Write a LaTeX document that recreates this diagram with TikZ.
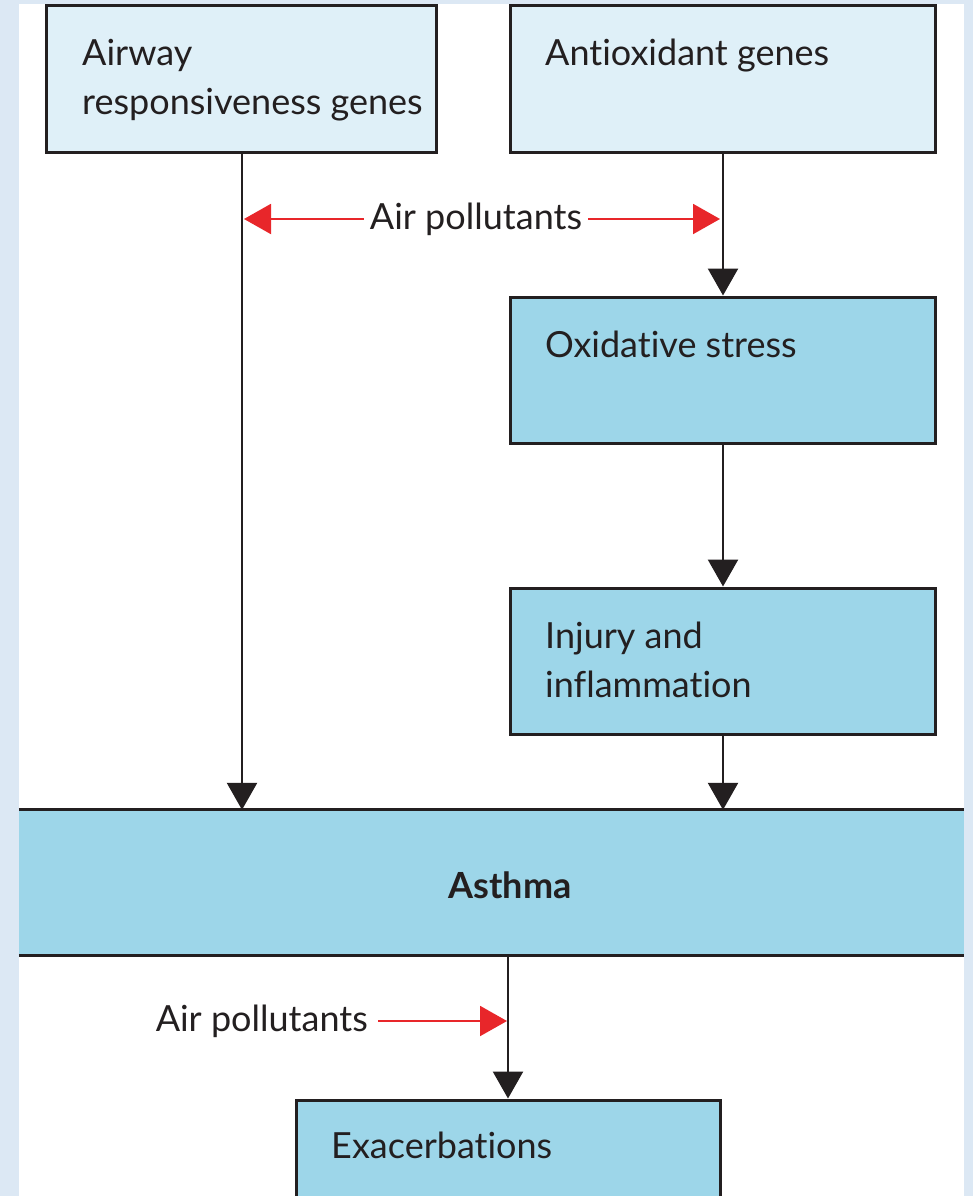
\documentclass[tikz,border=0pt]{standalone}
\usepackage{fontspec}
\setmainfont{Lato}[Ligatures=NoCommon]
\usetikzlibrary{arrows.meta}
\definecolor{outerbg}{HTML}{DCE8F4}
\definecolor{lightfill}{HTML}{DFF0F8}
\definecolor{darkfill}{HTML}{9DD6E9}
\definecolor{inkc}{HTML}{231F20}
\definecolor{redc}{HTML}{E8262A}
\tikzset{
  boxlight/.style={draw=inkc, line width=3pt, fill=lightfill, rectangle, inner sep=0pt},
  boxdark/.style={draw=inkc, line width=3pt, fill=darkfill, rectangle, inner sep=0pt},
  lbl/.style={text=inkc, font=\fontsize{36}{49}\selectfont, anchor=base west, inner sep=0pt, align=left},
  blk/.style={draw=inkc, line width=2.5pt, -{Triangle[length=27pt,width=30pt]}},
  redarr/.style={draw=redc, line width=2pt, -{Triangle[length=27pt,width=30pt]}},
}
\begin{document}
\begin{tikzpicture}[x=1pt,y=-1pt]
\useasboundingbox (0,0) rectangle (973,1196);
\fill[outerbg] (0,0) rectangle (973,1196);
\fill[white] (19,4) rectangle (964,1196);
% boxes
\node[boxlight, minimum width=390pt, minimum height=146pt] (airway) at (241,79) {};
\node[boxlight, minimum width=425pt, minimum height=146pt] (antiox) at (722.5,79) {};
\node[boxdark, minimum width=425pt, minimum height=146pt] (oxid) at (722.5,370) {};
\node[boxdark, minimum width=425pt, minimum height=146pt] (injury) at (722.5,661) {};
\node[fill=darkfill, rectangle, inner sep=0pt, minimum width=945pt, minimum height=145pt] (asthma) at (491.5,882.5) {};
\draw[inkc, line width=3pt] (asthma.north west) -- (asthma.north east);
\draw[inkc, line width=3pt] (asthma.south west) -- (asthma.south east);
\node[boxdark, minimum width=424pt, minimum height=146pt] (exac) at (508,1173) {};
% labels
\node[lbl] (airwayt) at (82,115) {Airway\\responsiveness genes};
\node[lbl] (antioxt) at (545,66) {Antioxidant genes};
\node[lbl] (oxidt) at (545,357) {Oxidative stress};
\node[lbl] (injuryt) at (545,697) {Injury and\\inflammation};
\node[text=inkc, font=\fontsize{36}{49}\selectfont\bfseries, inner sep=0pt] (asthmat) at (510,885) {Asthma};
\node[lbl] (exact) at (331,1158) {Exacerbations};
\node[text=inkc, font=\fontsize{36}{49}\selectfont, inner sep=0pt] (ap1) at (476,219) {Air pollutants};
\node[text=inkc, font=\fontsize{36}{49}\selectfont, anchor=east, inner sep=0pt] (ap2) at (368,1021) {Air pollutants};
% coordinates
\coordinate (la) at (242,152);
\coordinate (ra) at (723,152);
\coordinate (lr) at (244,219);
\coordinate (rr) at (720,219);
\coordinate (br) at (507,1021);
% black connectors
\draw[blk] (la) -- (la |- asthma.north);
\draw[blk] (ra) -- (ra |- oxid.north);
\draw[blk] (ra |- oxid.south) -- (ra |- injury.north);
\draw[blk] (ra |- injury.south) -- (ra |- asthma.north);
\draw[blk] (asthma.south -| exac.north) -- (exac.north);
% red connectors
\draw[redarr] ([xshift=-6pt]ap1.west) -- (lr);
\draw[redarr] ([xshift=6pt]ap1.east) -- (rr);
\draw[redarr] ([xshift=10pt]ap2.east) -- (br);
\end{tikzpicture}
\end{document}
